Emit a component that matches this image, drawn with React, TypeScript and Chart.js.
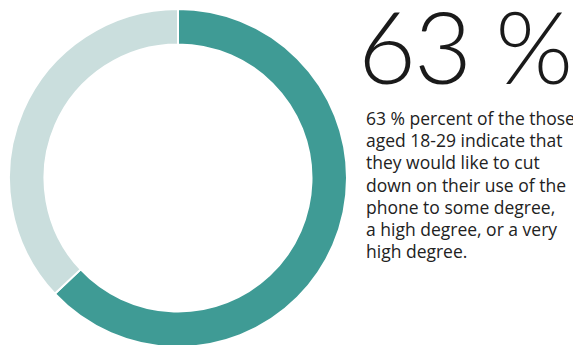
import React, { useEffect, useRef } from "react";
import { Chart, registerables } from "chart.js";

Chart.register(...registerables);

const categories = ["Would like to cut down", "Other"];
const values = [63, 37];
const colors = ["#3f9b95", "#cadedd"];
const headline = "63 %";
const descriptionLines = [
  "63 % percent of the those",
  "aged 18-29 indicate that",
  "they would like to cut",
  "down on their use of the",
  "phone to some degree,",
  "a high degree, or a very",
  "high degree.",
];

export default function App() {
  const ref = useRef<HTMLCanvasElement>(null);
  useEffect(() => {
    if (!ref.current) return;
    const chart = new Chart(ref.current, {
      type: "doughnut",
      data: {
        labels: categories,
        datasets: [
          {
            data: values,
            backgroundColor: colors,
            borderColor: "#ffffff",
            borderWidth: 2,
          },
        ],
      },
      options: {
        responsive: false,
        animation: false,
        cutout: "79%",
        layout: { padding: 0 },
        plugins: { legend: { display: false }, tooltip: { enabled: false } },
      },
    });
    return () => chart.destroy();
  }, []);

  return (
    <div style={{ position: "relative", width: 573, height: 337 }}>
      <canvas
        ref={ref}
        width={340}
        height={340}
        style={{ position: "absolute", left: 0, top: 0, width: 340, height: 340 }}
      />
      <div
        style={{
          position: "absolute",
          left: 350,
          top: -23,
          fontFamily: "Lato, sans-serif",
          fontWeight: 300,
          fontSize: 100,
          letterSpacing: -2,
          lineHeight: "120px",
          color: "#1a1a1a",
          whiteSpace: "nowrap",
        }}
      >
        {headline}
      </div>
      <div
        style={{
          position: "absolute",
          left: 358,
          top: 99,
          fontFamily: "'Open Sans', sans-serif",
          fontSize: 17.5,
          lineHeight: "22.2px",
          color: "#222222",
          whiteSpace: "nowrap",
        }}
      >
        {descriptionLines.map((l, i) => (
          <div key={i}>{l}</div>
        ))}
      </div>
    </div>
  );
}
